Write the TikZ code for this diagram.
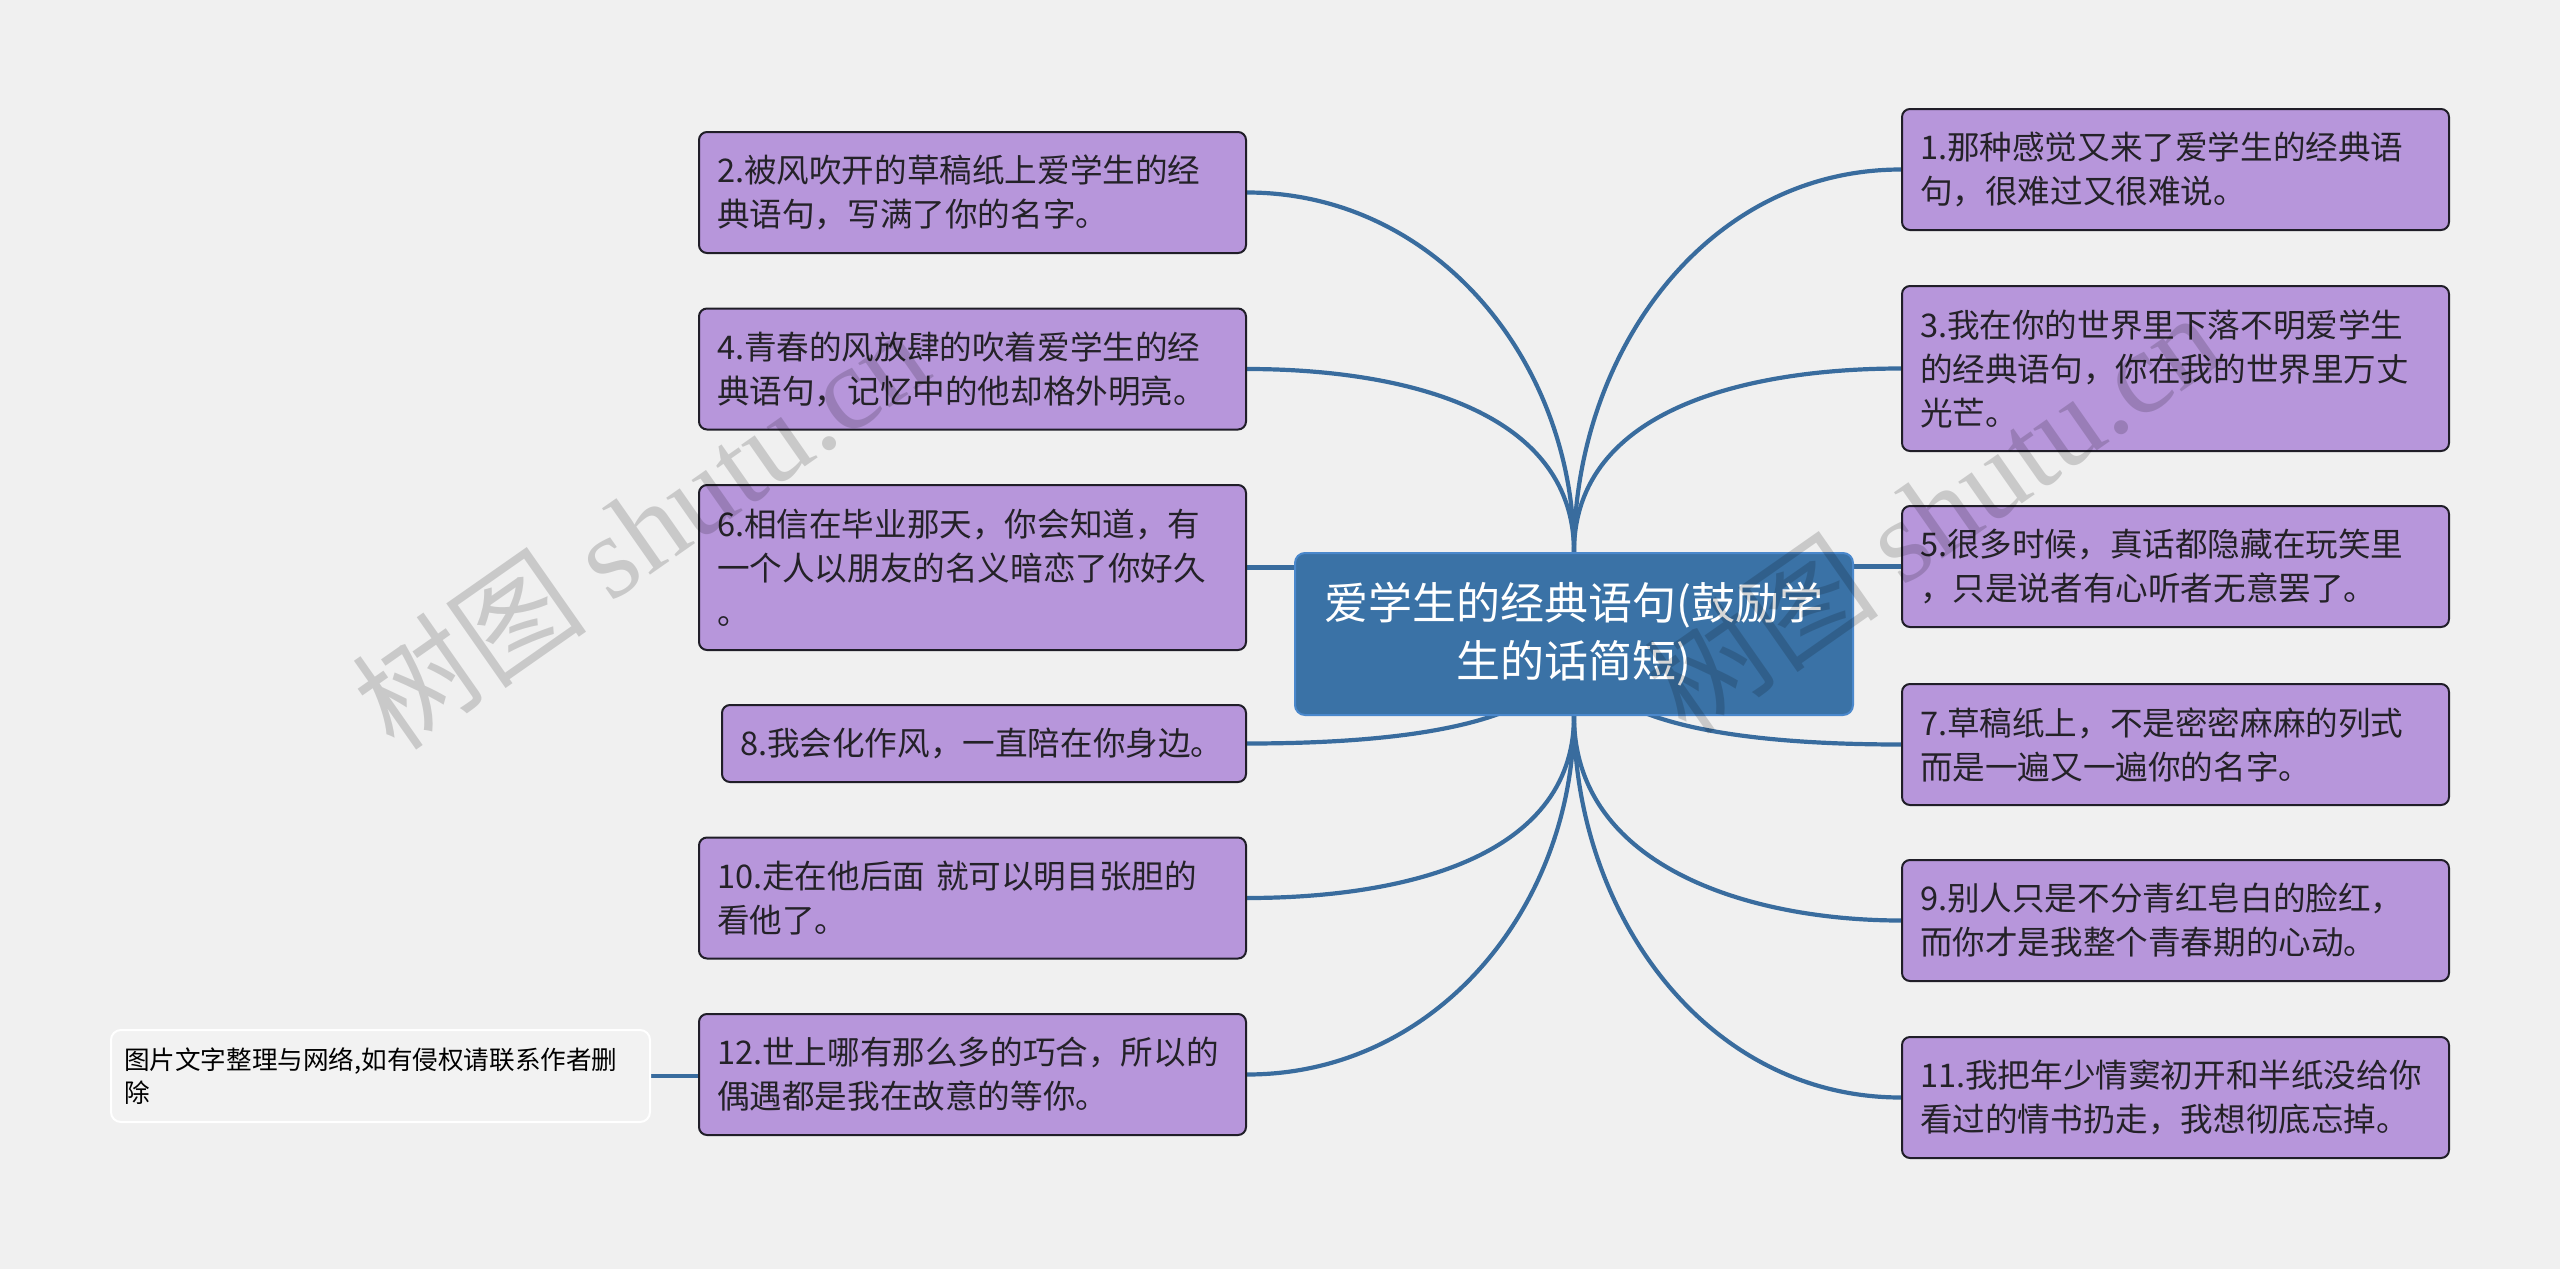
\documentclass[tikz,border=0pt]{standalone}
\usepackage{fontspec}
\setmainfont{Noto Sans CJK SC}
\newfontfamily\wmcjk{Noto Sans CJK SC}
\newfontfamily\wmlat{Liberation Serif}
\usetikzlibrary{calc}
\definecolor{bgcol}{RGB}{240,240,240}
\definecolor{leaffill}{RGB}{183,150,219}
\definecolor{leafborder}{RGB}{32,30,40}
\definecolor{leaftext}{RGB}{36,34,40}
\definecolor{rootfill}{RGB}{58,114,166}
\definecolor{rootborder}{RGB}{74,136,204}
\definecolor{linkcol}{RGB}{57,108,158}
\definecolor{notefill}{RGB}{242,242,242}
\pgfdeclarelayer{back}
\pgfdeclarelayer{edges}
\pgfsetlayers{back,edges,main}
\begin{document}
\begin{tikzpicture}[x=0.5pt,y=-0.5pt,
  leaf/.style={draw=leafborder, line width=1pt, fill=leaffill, rounded corners=4pt,
    text=leaftext, font=\fontsize{16.3}{22}\selectfont, align=left,
    inner xsep=9pt, inner ysep=0pt, text width=255.5pt},
  lhone/.style={minimum height=38.5pt},
  lhtwo/.style={minimum height=60.5pt},
  lhthree/.style={minimum height=82.5pt},
  rootbox/.style={fill=rootfill, draw=rootborder, line width=1pt, rounded corners=5pt,
    text=white, font=\fontsize{22}{29}\selectfont, align=center,
    minimum width=279pt, minimum height=81pt, inner sep=0pt},
  notebox/.style={fill=notefill, draw=white, line width=1pt, rounded corners=5pt,
    text=black, font=\fontsize{12.8}{16.5}\selectfont, align=left,
    text width=256.5pt, inner xsep=6.5pt, inner ysep=0pt, minimum height=46pt},
  link/.style={draw=linkcol, line width=2.1pt},
  wmark/.style={rotate=35, text=black, opacity=0.16, font=\fontsize{59}{60}\selectfont}
]
\begin{pgfonlayer}{back}
\fill[bgcol] (0,0) rectangle (2560,1269);
\end{pgfonlayer}
\useasboundingbox (0,0) rectangle (2560,1269);

% root
\node[rootbox] (root) at (1574,634) {爱学生的经典语句(鼓励学\\生的话简短)};

% left nodes
\node[leaf,lhtwo] (n2) at (972.5,192.5) {2.被风吹开的草稿纸上爱学生的经\\典语句，写满了你的名字。};
\node[leaf,lhtwo] (n4) at (972.5,369) {4.青春的风放肆的吹着爱学生的经\\典语句，记忆中的他却格外明亮。};
\node[leaf,lhthree] (n6) at (972.5,567.5) {6.相信在毕业那天，你会知道，有\\一个人以朋友的名义暗恋了你好久\\。};
\node[leaf,lhone,text width=244pt] (n8) at (984,743.5) {8.我会化作风，一直陪在你身边。};
\node[leaf,lhtwo] (n10) at (972.5,898) {10.走在他后面 就可以明目张胆的\\看他了。};
\node[leaf,lhtwo] (n12) at (972.5,1074.5) {12.世上哪有那么多的巧合，所以的\\偶遇都是我在故意的等你。};

% right nodes
\node[leaf,lhtwo] (n1) at (2175.5,169.5) {1.那种感觉又来了爱学生的经典语\\句，很难过又很难说。};
\node[leaf,lhthree] (n3) at (2175.5,368.5) {3.我在你的世界里下落不明爱学生\\的经典语句，你在我的世界里万丈\\光芒。};
\node[leaf,lhtwo] (n5) at (2175.5,566.5) {5.很多时候，真话都隐藏在玩笑里\\，只是说者有心听者无意罢了。};
\node[leaf,lhtwo] (n7) at (2175.5,744.5) {7.草稿纸上，不是密密麻麻的列式\\而是一遍又一遍你的名字。};
\node[leaf,lhtwo] (n9) at (2175.5,920.5) {9.别人只是不分青红皂白的脸红，\\而你才是我整个青春期的心动。};
\node[leaf,lhtwo] (n11) at (2175.5,1097.5) {11.我把年少情窦初开和半纸没给你\\看过的情书扔走，我想彻底忘掉。};

% note
\node[notebox] (note) at (380.5,1076) {图片文字整理与网络,如有侵权请联系作者删\\除};

\begin{pgfonlayer}{edges}
\draw[link] (root.north) to[out=90,in=0] (n2.east);
\draw[link] (root.north) to[out=90,in=0] (n4.east);
\draw[link] (n6.east) -- (n6.east -| root.west);
\draw[link] (root.center) .. controls ($(root.center)!0.667!(root.center |- n8.east)$) and ($(n8.east)!0.667!(root.center |- n8.east)$) .. (n8.east);
\draw[link] (root.south) to[out=-90,in=0] (n10.east);
\draw[link] (root.south) to[out=-90,in=0] (n12.east);
\draw[link] (root.north) to[out=90,in=180] (n1.west);
\draw[link] (root.north) to[out=90,in=180] (n3.west);
\draw[link] (n5.west) -- (n5.west -| root.east);
\draw[link] (root.center) .. controls ($(root.center)!0.667!(root.center |- n7.west)$) and ($(n7.west)!0.667!(root.center |- n7.west)$) .. (n7.west);
\draw[link] (root.south) to[out=-90,in=180] (n9.west);
\draw[link] (root.south) to[out=-90,in=180] (n11.west);
\draw[link] (note.east) -- (note.east -| n12.west);
\end{pgfonlayer}

% watermarks
\node[wmark] (wm1) at (640,528) {{\wmcjk 树图} {\wmlat shutu.cn}};
\node[wmark] (wm2) at (1932,512) {{\wmcjk 树图} {\wmlat shutu.cn}};
\end{tikzpicture}
\end{document}
